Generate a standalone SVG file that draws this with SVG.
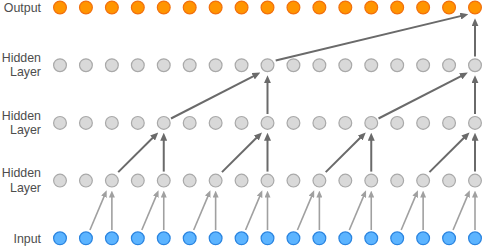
<svg xmlns="http://www.w3.org/2000/svg" width="494" height="246" viewBox="0 0 494 246">
<style>
.o{fill:#ff9500;stroke:#f2700c;stroke-width:1.2}
.h{fill:#d9d9d9;stroke:#a9a9a9;stroke-width:1.2}
.i{fill:#5cb4ff;stroke:#2a84e0;stroke-width:1.2}
.lbl{font-family:"Liberation Sans",Arial,sans-serif;font-size:12.4px;fill:#4d4d4d;text-anchor:end}
.dk{stroke:#6a6a6a;stroke-width:2;fill:none;marker-end:url(#ad)}
.lt{stroke:#a0a0a0;stroke-width:1.6;fill:none;marker-end:url(#al)}
</style>
<defs>
<marker id="ad" markerUnits="userSpaceOnUse" markerWidth="8" markerHeight="7" refX="1" refY="3.5" orient="auto"><path d="M0,0 L8,3.5 L0,7 z" fill="#6a6a6a"/></marker>
<marker id="al" markerUnits="userSpaceOnUse" markerWidth="7" markerHeight="6" refX="1" refY="3" orient="auto"><path d="M0,0 L7,3 L0,6 z" fill="#a0a0a0"/></marker>
</defs>
<g id="labels">
<text class="lbl" x="41" y="11.9">Output</text>
<text class="lbl" x="41" y="61.9">Hidden</text><text class="lbl" x="41" y="76.1">Layer</text>
<text class="lbl" x="41" y="119.6">Hidden</text><text class="lbl" x="41" y="133.8">Layer</text>
<text class="lbl" x="41" y="177.3">Hidden</text><text class="lbl" x="41" y="191.5">Layer</text>
<text class="lbl" x="41" y="242.7">Input</text>
</g>
<g id="connectors">
<path class="lt" d="M89.94,230 L104.35,195.83"/><path class="lt" d="M111.88,230 L111.88,196.6"/>
<path class="lt" d="M141.81,230 L156.22,195.83"/><path class="lt" d="M163.75,230 L163.75,196.6"/>
<path class="lt" d="M193.69,230 L208.1,195.83"/><path class="lt" d="M215.63,230 L215.63,196.6"/>
<path class="lt" d="M245.56,230 L259.97,195.83"/><path class="lt" d="M267.5,230 L267.5,196.6"/>
<path class="lt" d="M297.44,230 L311.85,195.83"/><path class="lt" d="M319.38,230 L319.38,196.6"/>
<path class="lt" d="M349.31,230 L363.72,195.83"/><path class="lt" d="M371.25,230 L371.25,196.6"/>
<path class="lt" d="M401.19,230 L415.6,195.83"/><path class="lt" d="M423.13,230 L423.13,196.6"/>
<path class="lt" d="M453.06,230 L467.47,195.83"/><path class="lt" d="M475,230 L475,196.6"/>
<path class="dk" d="M118.2,172.1 L153.28,137.33"/><path class="dk" d="M163.75,171.6 L163.75,139.7"/>
<path class="dk" d="M221.95,172.1 L257.03,137.33"/><path class="dk" d="M267.5,171.6 L267.5,139.7"/>
<path class="dk" d="M325.7,172.1 L360.78,137.33"/><path class="dk" d="M371.25,171.6 L371.25,139.7"/>
<path class="dk" d="M429.45,172.1 L464.53,137.33"/><path class="dk" d="M475,171.6 L475,139.7"/>
<path class="dk" d="M171,118.5 L254.1,75.8"/><path class="dk" d="M267.5,114 L267.5,82.2"/>
<path class="dk" d="M378.5,118.5 L461.6,75.8"/><path class="dk" d="M475,114 L475,82.2"/>
<path class="dk" d="M275.7,60.5 L461.5,15.9"/><path class="dk" d="M475,56.5 L475,25.3"/>
</g>
<g id="output-layer">
<g id="out-0"><circle class="o" cx="60" cy="7.5" r="6.4"/></g>
<g id="out-1"><circle class="o" cx="85.94" cy="7.5" r="6.4"/></g>
<g id="out-2"><circle class="o" cx="111.88" cy="7.5" r="6.4"/></g>
<g id="out-3"><circle class="o" cx="137.81" cy="7.5" r="6.4"/></g>
<g id="out-4"><circle class="o" cx="163.75" cy="7.5" r="6.4"/></g>
<g id="out-5"><circle class="o" cx="189.69" cy="7.5" r="6.4"/></g>
<g id="out-6"><circle class="o" cx="215.63" cy="7.5" r="6.4"/></g>
<g id="out-7"><circle class="o" cx="241.56" cy="7.5" r="6.4"/></g>
<g id="out-8"><circle class="o" cx="267.5" cy="7.5" r="6.4"/></g>
<g id="out-9"><circle class="o" cx="293.44" cy="7.5" r="6.4"/></g>
<g id="out-10"><circle class="o" cx="319.38" cy="7.5" r="6.4"/></g>
<g id="out-11"><circle class="o" cx="345.31" cy="7.5" r="6.4"/></g>
<g id="out-12"><circle class="o" cx="371.25" cy="7.5" r="6.4"/></g>
<g id="out-13"><circle class="o" cx="397.19" cy="7.5" r="6.4"/></g>
<g id="out-14"><circle class="o" cx="423.13" cy="7.5" r="6.4"/></g>
<g id="out-15"><circle class="o" cx="449.06" cy="7.5" r="6.4"/></g>
<g id="out-16"><circle class="o" cx="475" cy="7.5" r="6.4"/></g>
</g>
<g id="hidden-3">
<g id="h3-0"><circle class="h" cx="60" cy="65.2" r="6.4"/></g>
<g id="h3-1"><circle class="h" cx="85.94" cy="65.2" r="6.4"/></g>
<g id="h3-2"><circle class="h" cx="111.88" cy="65.2" r="6.4"/></g>
<g id="h3-3"><circle class="h" cx="137.81" cy="65.2" r="6.4"/></g>
<g id="h3-4"><circle class="h" cx="163.75" cy="65.2" r="6.4"/></g>
<g id="h3-5"><circle class="h" cx="189.69" cy="65.2" r="6.4"/></g>
<g id="h3-6"><circle class="h" cx="215.63" cy="65.2" r="6.4"/></g>
<g id="h3-7"><circle class="h" cx="241.56" cy="65.2" r="6.4"/></g>
<g id="h3-8"><circle class="h" cx="267.5" cy="65.2" r="6.4"/></g>
<g id="h3-9"><circle class="h" cx="293.44" cy="65.2" r="6.4"/></g>
<g id="h3-10"><circle class="h" cx="319.38" cy="65.2" r="6.4"/></g>
<g id="h3-11"><circle class="h" cx="345.31" cy="65.2" r="6.4"/></g>
<g id="h3-12"><circle class="h" cx="371.25" cy="65.2" r="6.4"/></g>
<g id="h3-13"><circle class="h" cx="397.19" cy="65.2" r="6.4"/></g>
<g id="h3-14"><circle class="h" cx="423.13" cy="65.2" r="6.4"/></g>
<g id="h3-15"><circle class="h" cx="449.06" cy="65.2" r="6.4"/></g>
<g id="h3-16"><circle class="h" cx="475" cy="65.2" r="6.4"/></g>
</g>
<g id="hidden-2">
<g id="h2-0"><circle class="h" cx="60" cy="122.9" r="6.4"/></g>
<g id="h2-1"><circle class="h" cx="85.94" cy="122.9" r="6.4"/></g>
<g id="h2-2"><circle class="h" cx="111.88" cy="122.9" r="6.4"/></g>
<g id="h2-3"><circle class="h" cx="137.81" cy="122.9" r="6.4"/></g>
<g id="h2-4"><circle class="h" cx="163.75" cy="122.9" r="6.4"/></g>
<g id="h2-5"><circle class="h" cx="189.69" cy="122.9" r="6.4"/></g>
<g id="h2-6"><circle class="h" cx="215.63" cy="122.9" r="6.4"/></g>
<g id="h2-7"><circle class="h" cx="241.56" cy="122.9" r="6.4"/></g>
<g id="h2-8"><circle class="h" cx="267.5" cy="122.9" r="6.4"/></g>
<g id="h2-9"><circle class="h" cx="293.44" cy="122.9" r="6.4"/></g>
<g id="h2-10"><circle class="h" cx="319.38" cy="122.9" r="6.4"/></g>
<g id="h2-11"><circle class="h" cx="345.31" cy="122.9" r="6.4"/></g>
<g id="h2-12"><circle class="h" cx="371.25" cy="122.9" r="6.4"/></g>
<g id="h2-13"><circle class="h" cx="397.19" cy="122.9" r="6.4"/></g>
<g id="h2-14"><circle class="h" cx="423.13" cy="122.9" r="6.4"/></g>
<g id="h2-15"><circle class="h" cx="449.06" cy="122.9" r="6.4"/></g>
<g id="h2-16"><circle class="h" cx="475" cy="122.9" r="6.4"/></g>
</g>
<g id="hidden-1">
<g id="h1-0"><circle class="h" cx="60" cy="180.6" r="6.4"/></g>
<g id="h1-1"><circle class="h" cx="85.94" cy="180.6" r="6.4"/></g>
<g id="h1-2"><circle class="h" cx="111.88" cy="180.6" r="6.4"/></g>
<g id="h1-3"><circle class="h" cx="137.81" cy="180.6" r="6.4"/></g>
<g id="h1-4"><circle class="h" cx="163.75" cy="180.6" r="6.4"/></g>
<g id="h1-5"><circle class="h" cx="189.69" cy="180.6" r="6.4"/></g>
<g id="h1-6"><circle class="h" cx="215.63" cy="180.6" r="6.4"/></g>
<g id="h1-7"><circle class="h" cx="241.56" cy="180.6" r="6.4"/></g>
<g id="h1-8"><circle class="h" cx="267.5" cy="180.6" r="6.4"/></g>
<g id="h1-9"><circle class="h" cx="293.44" cy="180.6" r="6.4"/></g>
<g id="h1-10"><circle class="h" cx="319.38" cy="180.6" r="6.4"/></g>
<g id="h1-11"><circle class="h" cx="345.31" cy="180.6" r="6.4"/></g>
<g id="h1-12"><circle class="h" cx="371.25" cy="180.6" r="6.4"/></g>
<g id="h1-13"><circle class="h" cx="397.19" cy="180.6" r="6.4"/></g>
<g id="h1-14"><circle class="h" cx="423.13" cy="180.6" r="6.4"/></g>
<g id="h1-15"><circle class="h" cx="449.06" cy="180.6" r="6.4"/></g>
<g id="h1-16"><circle class="h" cx="475" cy="180.6" r="6.4"/></g>
</g>
<g id="input-layer">
<g id="in-0"><circle class="i" cx="60" cy="238.3" r="6.4"/></g>
<g id="in-1"><circle class="i" cx="85.94" cy="238.3" r="6.4"/></g>
<g id="in-2"><circle class="i" cx="111.88" cy="238.3" r="6.4"/></g>
<g id="in-3"><circle class="i" cx="137.81" cy="238.3" r="6.4"/></g>
<g id="in-4"><circle class="i" cx="163.75" cy="238.3" r="6.4"/></g>
<g id="in-5"><circle class="i" cx="189.69" cy="238.3" r="6.4"/></g>
<g id="in-6"><circle class="i" cx="215.63" cy="238.3" r="6.4"/></g>
<g id="in-7"><circle class="i" cx="241.56" cy="238.3" r="6.4"/></g>
<g id="in-8"><circle class="i" cx="267.5" cy="238.3" r="6.4"/></g>
<g id="in-9"><circle class="i" cx="293.44" cy="238.3" r="6.4"/></g>
<g id="in-10"><circle class="i" cx="319.38" cy="238.3" r="6.4"/></g>
<g id="in-11"><circle class="i" cx="345.31" cy="238.3" r="6.4"/></g>
<g id="in-12"><circle class="i" cx="371.25" cy="238.3" r="6.4"/></g>
<g id="in-13"><circle class="i" cx="397.19" cy="238.3" r="6.4"/></g>
<g id="in-14"><circle class="i" cx="423.13" cy="238.3" r="6.4"/></g>
<g id="in-15"><circle class="i" cx="449.06" cy="238.3" r="6.4"/></g>
<g id="in-16"><circle class="i" cx="475" cy="238.3" r="6.4"/></g>
</g>
</svg>
